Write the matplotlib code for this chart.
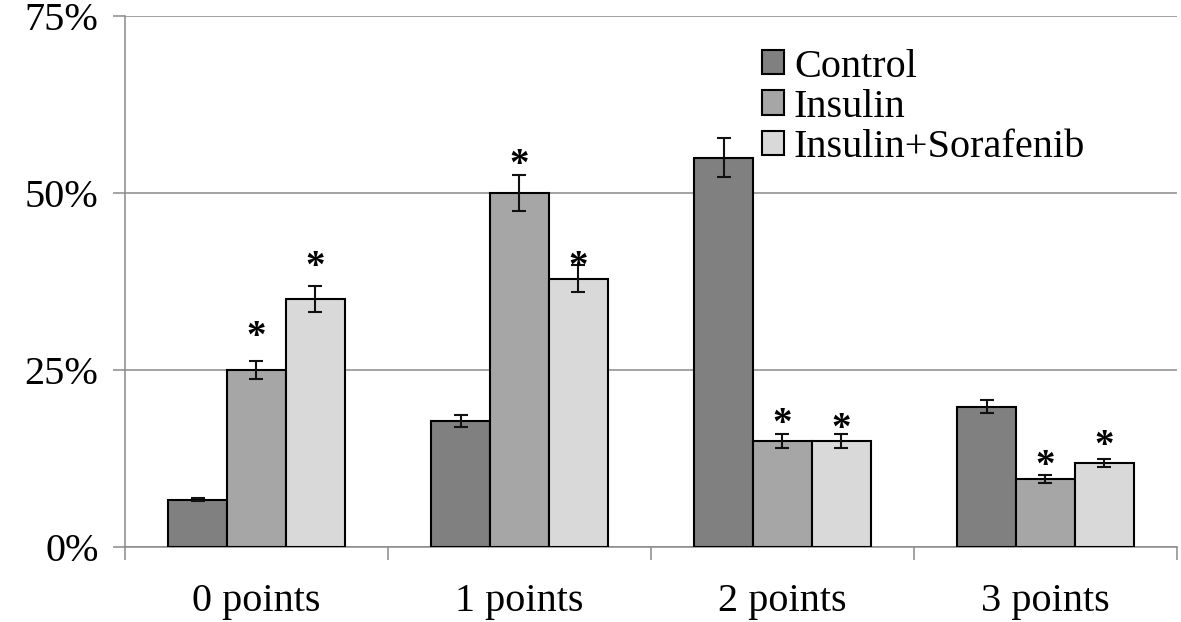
import matplotlib
matplotlib.use("Agg")
import matplotlib.pyplot as plt
import matplotlib.transforms as mtransforms
import numpy as np
from matplotlib.ticker import FixedLocator, FuncFormatter

categories = ["0 points", "1 points", "2 points", "3 points"]
series = ["Control", "Insulin", "Insulin+Sorafenib"]
control = [6.7, 17.8, 55.0, 19.8]
insulin = [25.0, 50.0, 15.0, 9.6]
ins_sora = [35.0, 37.9, 15.0, 11.9]
control_err = [0.2, 0.9, 2.7, 0.9]
insulin_err = [1.3, 2.5, 1.0, 0.6]
ins_sora_err = [1.8, 1.9, 1.0, 0.55]
# significance stars (True = marked)
insulin_star = [True, True, True, True]
ins_sora_star = [True, True, True, True]
insulin_star_y = [30.8, 55.2, 18.6, 12.7]
ins_sora_star_y = [40.8, 40.7, 17.9, 15.4]

plt.rcParams['font.family'] = ['Liberation Serif', 'DejaVu Serif']

fig = plt.figure(figsize=(11.81, 6.22), dpi=100)
ax = fig.add_axes([0.1058, 0.1206, 0.8908, 0.8537])

x = np.arange(len(categories))
w = 0.224
colors = ["#808080", "#a6a6a6", "#d9d9d9"]
vals = [control, insulin, ins_sora]
errs = [control_err, insulin_err, ins_sora_err]

for i, (v, e) in enumerate(zip(vals, errs)):
    ax.bar(x + (i - 1) * w, v, w, color=colors[i], edgecolor="black",
           linewidth=1.5, label=series[i], zorder=3)
    ax.errorbar(x + (i - 1) * w, v, yerr=e, fmt="none", ecolor="#111111",
                elinewidth=1.5, capsize=5, capthick=1.5, zorder=4)

# asterisk glyph sits high, shift it down a bit
star_tr = ax.transData + mtransforms.ScaledTranslation(0, -9 / 100, fig.dpi_scale_trans)
for j in range(len(categories)):
    if insulin_star[j]:
        ax.text(x[j], insulin_star_y[j], "*", ha="center", va="center",
                fontsize=28, fontweight="bold", transform=star_tr, zorder=5)
    if ins_sora_star[j]:
        ax.text(x[j] + w, ins_sora_star_y[j], "*", ha="center", va="center",
                fontsize=28, fontweight="bold", transform=star_tr, zorder=5)

ax.set_xlim(-0.5, 3.5)
ax.set_ylim(0, 75)
ax.yaxis.set_major_locator(FixedLocator([0, 25, 50, 75]))
ax.yaxis.set_major_formatter(FuncFormatter(lambda v, p: f"{int(v)}%"))
ax.grid(axis="y", color="#8a8a8a", linewidth=1.1, zorder=0)
ax.set_axisbelow(True)

ax.set_xticks(x)
ax.set_xticklabels(categories)
ax.set_xticks(np.arange(-0.5, 4.0, 1.0), minor=True)
ax.tick_params(axis="x", which="major", length=0, pad=26, labelsize=29)
ax.tick_params(axis="x", which="minor", length=9, width=1.1, color="#8a8a8a")
ax.tick_params(axis="y", length=9, width=1.1, color="#8a8a8a", pad=10, labelsize=29)

for s in ["top", "right"]:
    ax.spines[s].set_visible(False)
for s in ["left", "bottom"]:
    ax.spines[s].set_color("#8a8a8a")
    ax.spines[s].set_linewidth(1.1)

ax.legend(loc="upper left", bbox_to_anchor=(0.645, 0.922),
          bbox_transform=fig.transFigure, frameon=False, fontsize=29,
          handlelength=0.55, handleheight=0.55, handletextpad=0.25,
          labelspacing=0.08, borderpad=0, borderaxespad=0)

fig.savefig("out.png", dpi=100)
